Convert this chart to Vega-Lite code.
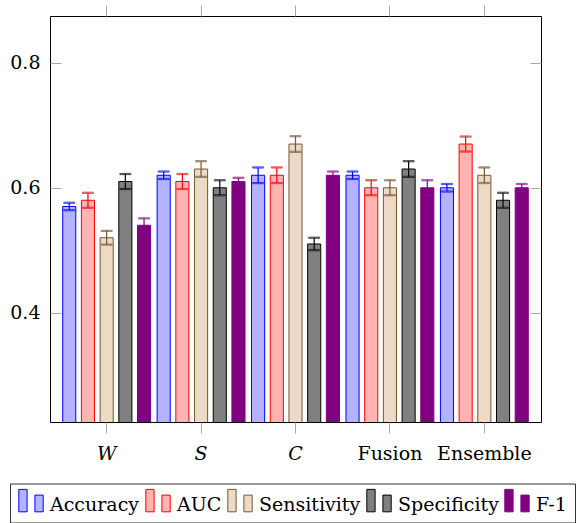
{
  "$schema": "https://vega.github.io/schema/vega-lite/v6.json",
  "width": 491,
  "height": 406,
  "autosize": {"type": "none"},
  "padding": {"left": 50, "top": 16, "right": 36, "bottom": 101},
  "background": "white",
  "config": {
    "view": {"stroke": "black", "strokeWidth": 1},
    "font": "DejaVu Serif",
    "axis": {"grid": false, "domain": false, "tickColor": "#a8a8a8", "tickWidth": 1, "tickSize": 11, "labelFont": "DejaVu Serif", "labelFontSize": 19, "labelColor": "black", "title": null},
    "legend": {
      "orient": "none", "legendX": -40, "legendY": 467.5, "direction": "horizontal", "columns": 5,
      "columnPadding": 3, "padding": 8, "strokeColor": "#333", "strokeWidth": 1,
      "labelFont": "DejaVu Serif", "labelFontSize": 19, "labelColor": "black", "labelOffset": 6, "labelLimit": 0,
      "symbolType": "M-1,-1.24H-0.32V0.6H-1Z M0.32,-0.77H1V0.6H0.32Z",
      "symbolSize": 595, "symbolStrokeWidth": 1, "symbolOpacity": 1
    }
  },
  "data": {"values": [
    {"group": "W", "metric": "Accuracy", "value": 0.57, "lo": 0.564, "hi": 0.576},
    {"group": "W", "metric": "AUC", "value": 0.58, "lo": 0.568, "hi": 0.592},
    {"group": "W", "metric": "Sensitivity", "value": 0.52, "lo": 0.509, "hi": 0.531},
    {"group": "W", "metric": "Specificity", "value": 0.61, "lo": 0.598, "hi": 0.622},
    {"group": "W", "metric": "F-1", "value": 0.54, "lo": 0.529, "hi": 0.551},
    {"group": "S", "metric": "Accuracy", "value": 0.62, "lo": 0.614, "hi": 0.626},
    {"group": "S", "metric": "AUC", "value": 0.61, "lo": 0.598, "hi": 0.622},
    {"group": "S", "metric": "Sensitivity", "value": 0.63, "lo": 0.6175, "hi": 0.6425},
    {"group": "S", "metric": "Specificity", "value": 0.6, "lo": 0.588, "hi": 0.612},
    {"group": "S", "metric": "F-1", "value": 0.61, "lo": 0.604, "hi": 0.616},
    {"group": "C", "metric": "Accuracy", "value": 0.62, "lo": 0.6075, "hi": 0.6325},
    {"group": "C", "metric": "AUC", "value": 0.62, "lo": 0.6075, "hi": 0.6325},
    {"group": "C", "metric": "Sensitivity", "value": 0.67, "lo": 0.6575, "hi": 0.6825},
    {"group": "C", "metric": "Specificity", "value": 0.51, "lo": 0.5, "hi": 0.52},
    {"group": "C", "metric": "F-1", "value": 0.62, "lo": 0.614, "hi": 0.626},
    {"group": "Fusion", "metric": "Accuracy", "value": 0.62, "lo": 0.614, "hi": 0.626},
    {"group": "Fusion", "metric": "AUC", "value": 0.6, "lo": 0.588, "hi": 0.612},
    {"group": "Fusion", "metric": "Sensitivity", "value": 0.6, "lo": 0.588, "hi": 0.612},
    {"group": "Fusion", "metric": "Specificity", "value": 0.63, "lo": 0.6175, "hi": 0.6425},
    {"group": "Fusion", "metric": "F-1", "value": 0.6, "lo": 0.588, "hi": 0.612},
    {"group": "Ensemble", "metric": "Accuracy", "value": 0.6, "lo": 0.594, "hi": 0.606},
    {"group": "Ensemble", "metric": "AUC", "value": 0.67, "lo": 0.658, "hi": 0.682},
    {"group": "Ensemble", "metric": "Sensitivity", "value": 0.62, "lo": 0.6075, "hi": 0.6325},
    {"group": "Ensemble", "metric": "Specificity", "value": 0.58, "lo": 0.568, "hi": 0.592},
    {"group": "Ensemble", "metric": "F-1", "value": 0.6, "lo": 0.594, "hi": 0.606}
  ]},
  "encoding": {
    "x": {"field": "group", "type": "nominal", "scale": {"domain": ["W", "S", "C", "Fusion", "Ensemble"], "paddingInner": 0, "paddingOuter": 0.1}},
    "xOffset": {"field": "metric", "type": "nominal", "scale": {"domain": ["Accuracy", "AUC", "Sensitivity", "Specificity", "F-1"], "paddingInner": 0.3, "paddingOuter": 0.175}},
    "stroke": {"field": "metric", "type": "nominal", "title": null, "scale": {"domain": ["Accuracy", "AUC", "Sensitivity", "Specificity", "F-1"], "range": ["#0000ff", "#ff0000", "#7a5530", "#000000", "#800080"]}}
  },
  "layer": [
    {
      "mark": {"type": "bar", "strokeWidth": 1, "opacity": 1, "clip": true},
      "encoding": {
        "x": {"field": "group", "type": "nominal", "axis": {"orient": "bottom", "labelAngle": 0, "labelBaseline": "alphabetic", "labelPadding": 26, "labelFontStyle": {"condition": {"test": "indexof(['W','S','C'], datum.value) >= 0", "value": "italic"}, "value": "normal"}}},
        "y": {"field": "value", "type": "quantitative", "scale": {"domain": [0.225, 0.875], "nice": false, "zero": false}, "axis": {"orient": "left", "offset": -11, "values": [0.4, 0.6, 0.8], "format": ".1f", "labelPadding": 10}},
        "fill": {"field": "metric", "type": "nominal", "title": null, "scale": {"domain": ["Accuracy", "AUC", "Sensitivity", "Specificity", "F-1"], "range": ["#b3b3ff", "#ffb3b3", "#ecd9c6", "#808080", "#800080"]}}
      }
    },
    {
      "mark": {"type": "rule", "strokeWidth": 1.2},
      "encoding": {
        "x": {"field": "group", "type": "nominal", "axis": {"orient": "top", "labels": false}},
        "y": {"field": "lo", "type": "quantitative", "axis": {"orient": "right", "offset": -11, "labels": false, "values": [0.4, 0.6, 0.8]}},
        "y2": {"field": "hi"}
      }
    },
    {
      "mark": {"type": "tick", "size": 11, "thickness": 1.2},
      "encoding": {
        "x": {"field": "group", "type": "nominal", "axis": null},
        "y": {"field": "lo", "type": "quantitative", "axis": null}
      }
    },
    {
      "mark": {"type": "tick", "size": 11, "thickness": 1.2},
      "encoding": {
        "x": {"field": "group", "type": "nominal", "axis": null},
        "y": {"field": "hi", "type": "quantitative", "axis": null}
      }
    }
  ],
  "resolve": {"axis": {"x": "independent", "y": "independent"}}
}
